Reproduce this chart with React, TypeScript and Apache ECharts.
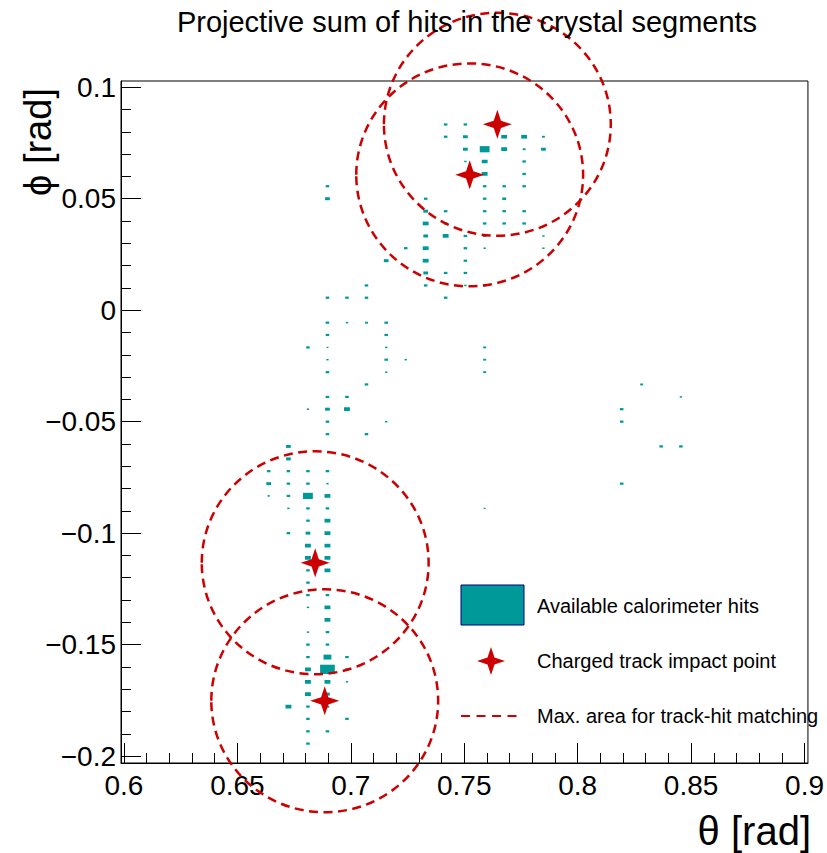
import React, { useEffect, useRef } from 'react';
import * as echarts from 'echarts';

const chartTitle = 'Projective sum of hits in the crystal segments';
const xAxisTitle = 'θ [rad]';
const yAxisTitle = 'ϕ [rad]';
const xTickValues = [0.6, 0.65, 0.7, 0.75, 0.8, 0.85, 0.9];
const yTickValues = [-0.2, -0.15, -0.1, -0.05, 0, 0.05, 0.1];
const xRange = [0.5987, 0.9015];
const yRange = [-0.2031, 0.1028];
const minorStep = 0.01;
// bin size of a crystal segment (theta, phi)
const cellSize = [0.00865, 0.00556];

// hits: [theta, phi, relative box size]
const hits = [
  // theta 0.7418
  [0.7418, 0.0833, 0.18], [0.7418, 0.0778, 0.18], [0.7418, 0.0444, 0.18], [0.7418, 0.0389, 0.18],
  [0.7418, 0.0333, 0.3], [0.7418, 0.0167, 0.18], [0.7418, 0.0056, 0.18],
  // theta 0.7505
  [0.7505, 0.0833, 0.18], [0.7505, 0.0778, 0.24], [0.7505, 0.0722, 0.24], [0.7505, 0.0667, 0.12],
  [0.7505, 0.0333, 0.18], [0.7505, 0.0278, 0.18], [0.7505, 0.0222, 0.18], [0.7505, 0.0167, 0.18],
  [0.7505, 0.0111, 0.12],
  // theta 0.7590
  [0.759, 0.0722, 0.5], [0.759, 0.0667, 0.3], [0.759, 0.0611, 0.3], [0.759, 0.0556, 0.18],
  [0.759, 0.05, 0.18], [0.759, 0.0444, 0.18], [0.759, 0.0389, 0.18], [0.759, 0.0333, 0.18],
  [0.759, 0.0278, 0.12], [0.759, 0.0111, 0.18], [0.759, -0.0167, 0.15], [0.759, -0.0222, 0.15],
  [0.759, -0.0278, 0.15], [0.759, -0.0889, 0.1],
  // theta 0.7676
  [0.7676, 0.0778, 0.3], [0.7676, 0.0722, 0.3], [0.7676, 0.0556, 0.18], [0.7676, 0.05, 0.2],
  [0.7676, 0.0444, 0.18], [0.7676, 0.0389, 0.18],
  // theta 0.7764
  [0.7764, 0.0778, 0.3], [0.7764, 0.0722, 0.15], [0.7764, 0.0667, 0.18], [0.7764, 0.0611, 0.18],
  [0.7764, 0.0556, 0.18], [0.7764, 0.0444, 0.18], [0.7764, 0.0389, 0.18],
  // theta 0.7849
  [0.7849, 0.0778, 0.15], [0.7849, 0.0722, 0.24], [0.7849, 0.0333, 0.12], [0.7849, 0.0278, 0.12],
  // theta 0.7330
  [0.733, 0.05, 0.18], [0.733, 0.0444, 0.24], [0.733, 0.0389, 0.3], [0.733, 0.0333, 0.24],
  [0.733, 0.0278, 0.3], [0.733, 0.0222, 0.3], [0.733, 0.0167, 0.24], [0.733, 0.0111, 0.18],
  // theta 0.7242
  [0.7242, 0.0278, 0.18], [0.7242, -0.0222, 0.12],
  // theta 0.7156
  [0.7156, 0.0222, 0.24], [0.7156, -0.0056, 0.18], [0.7156, -0.0111, 0.18], [0.7156, -0.0167, 0.12],
  [0.7156, -0.0222, 0.18], [0.7156, -0.0278, 0.12], [0.7156, -0.05, 0.12],
  // theta 0.7069
  [0.7069, 0.0111, 0.18], [0.7069, 0.0056, 0.18], [0.7069, -0.0056, 0.15], [0.7069, -0.0333, 0.18],
  [0.7069, -0.0556, 0.18],
  // theta 0.6983
  [0.6983, 0.0056, 0.18], [0.6983, -0.0056, 0.12], [0.6983, -0.0389, 0.18], [0.6983, -0.0444, 0.3],
  [0.6983, -0.1556, 0.18], [0.6983, -0.1611, 0.18], [0.6983, -0.1667, 0.12], [0.6983, -0.1833, 0.18],
  // theta 0.6897
  [0.6897, 0.0556, 0.18], [0.6897, 0.05, 0.24], [0.6897, 0.0056, 0.18], [0.6897, -0.0056, 0.18],
  [0.6897, -0.0111, 0.18], [0.6897, -0.0167, 0.1], [0.6897, -0.0222, 0.12], [0.6897, -0.0278, 0.18],
  [0.6897, -0.0389, 0.18], [0.6897, -0.0444, 0.24], [0.6897, -0.05, 0.18], [0.6897, -0.0556, 0.18],
  [0.6897, -0.0722, 0.18], [0.6897, -0.0778, 0.12], [0.6897, -0.0833, 0.3], [0.6897, -0.0889, 0.18],
  [0.6897, -0.0944, 0.3], [0.6897, -0.1, 0.3], [0.6897, -0.1056, 0.3], [0.6897, -0.1111, 0.3],
  [0.6897, -0.1167, 0.3], [0.6897, -0.1278, 0.18], [0.6897, -0.1333, 0.3], [0.6897, -0.1389, 0.3],
  [0.6897, -0.1444, 0.18], [0.6897, -0.15, 0.18], [0.6897, -0.1556, 0.4], [0.6897, -0.1611, 0.75],
  [0.6897, -0.1667, 0.3], [0.6897, -0.1722, 0.24], [0.6897, -0.1778, 0.18], [0.6897, -0.1889, 0.18],
  // theta 0.6811
  [0.6811, -0.0167, 0.18], [0.6811, -0.0444, 0.12], [0.6811, -0.0722, 0.18], [0.6811, -0.0778, 0.18],
  [0.6811, -0.0833, 0.5], [0.6811, -0.0889, 0.18], [0.6811, -0.0944, 0.18], [0.6811, -0.1, 0.24],
  [0.6811, -0.1056, 0.3], [0.6811, -0.1111, 0.3], [0.6811, -0.1167, 0.18], [0.6811, -0.1222, 0.18],
  [0.6811, -0.1278, 0.18], [0.6811, -0.1333, 0.12], [0.6811, -0.1444, 0.12], [0.6811, -0.15, 0.18],
  [0.6811, -0.1556, 0.18], [0.6811, -0.1611, 0.3], [0.6811, -0.1667, 0.3], [0.6811, -0.1722, 0.3],
  [0.6811, -0.1778, 0.18], [0.6811, -0.1833, 0.18], [0.6811, -0.1889, 0.18], [0.6811, -0.1944, 0.18],
  // theta 0.6725
  [0.6725, -0.0611, 0.24], [0.6725, -0.0667, 0.24], [0.6725, -0.0722, 0.18], [0.6725, -0.0778, 0.18],
  [0.6725, -0.0833, 0.18], [0.6725, -0.0889, 0.12], [0.6725, -0.1, 0.18], [0.6725, -0.1778, 0.3],
  // theta 0.6638
  [0.6638, -0.0722, 0.18], [0.6638, -0.0778, 0.24], [0.6638, -0.0833, 0.12],
  // isolated hits at larger theta
  [0.8194, -0.0444, 0.18], [0.8194, -0.05, 0.18], [0.8194, -0.0778, 0.18], [0.8282, -0.0333, 0.15],
  [0.8368, -0.0611, 0.18], [0.8455, -0.0389, 0.12], [0.8455, -0.0611, 0.18],
];

const trackTheta = [0.7646, 0.7524, 0.6843, 0.6885];
const trackPhi = [0.0834, 0.0607, -0.1133, -0.1752];
const matchRadius = 0.05;

const legendLabels = [
  'Available calorimeter hits',
  'Charged track impact point',
  'Max. area for track-hit matching',
];

const hitColor = '#009999';
const trackColor = '#cc0000';
const fontFamily = '"Liberation Sans", Arial, Helvetica, sans-serif';
const starPath = 'path://M0,-10L2.5,-2.5L10,0L2.5,2.5L0,10L-2.5,2.5L-10,0L-2.5,-2.5Z';

function fmt(v: number): string {
  const r = Math.round(v * 1000) / 1000;
  return r < 0 ? '\u2212' + String(-r) : String(r === 0 ? 0 : r);
}

function minorTicks(a: number, b: number): number[] {
  const out: number[] = [];
  const n = Math.round((b - a) / minorStep);
  for (let i = 0; i <= n; i++) out.push(Math.round((a + i * minorStep) * 1000) / 1000);
  return out;
}

export default function App() {
  const ref = useRef<HTMLDivElement>(null);

  useEffect(() => {
    if (!ref.current) return;
    const chart = echarts.init(ref.current, undefined, { renderer: 'svg' });

    const starPts = (cx: number, cy: number, r: number) => {
      const q = r * 0.25;
      return [
        [cx, cy - r], [cx + q, cy - q], [cx + r, cy], [cx + q, cy + q],
        [cx, cy + r], [cx - q, cy + q], [cx - r, cy], [cx - q, cy - q],
      ];
    };

    const majorAxisCommon = {
      type: 'value' as const,
      axisLine: { show: true, onZero: false, lineStyle: { color: '#000', width: 1 } },
      splitLine: { show: false },
    };

    chart.setOption({
      animation: false,
      backgroundColor: '#fff',
      grid: {
        left: 121, top: 81, width: 690, height: 682,
        show: true, borderColor: '#000', borderWidth: 1, backgroundColor: 'transparent',
      },
      xAxis: [
        {
          ...majorAxisCommon,
          min: xRange[0], max: xRange[1], position: 'bottom',
          axisTick: { show: true, inside: true, length: 20, customValues: xTickValues, lineStyle: { color: '#000', width: 1 } },
          axisLabel: {
            customValues: xTickValues, formatter: (v: number) => fmt(v),
            fontSize: 28, color: '#000', fontFamily, margin: 8,
          },
        },
        {
          type: 'value', min: xRange[0], max: xRange[1], position: 'bottom',
          axisLine: { show: false, onZero: false },
          axisTick: { show: true, inside: true, length: 10, customValues: minorTicks(0.6, 0.9), lineStyle: { color: '#000', width: 1 } },
          axisLabel: { show: false },
          splitLine: { show: false },
        },
      ],
      yAxis: [
        {
          ...majorAxisCommon,
          min: yRange[0], max: yRange[1], position: 'left',
          axisTick: { show: true, inside: true, length: 20, customValues: yTickValues, lineStyle: { color: '#000', width: 1 } },
          axisLabel: {
            customValues: yTickValues, formatter: (v: number) => fmt(v),
            fontSize: 28, color: '#000', fontFamily, margin: 5,
          },
        },
        {
          type: 'value', min: yRange[0], max: yRange[1], position: 'left',
          axisLine: { show: false, onZero: false },
          axisTick: { show: true, inside: true, length: 10, customValues: minorTicks(-0.2, 0.1), lineStyle: { color: '#000', width: 1 } },
          axisLabel: { show: false },
          splitLine: { show: false },
        },
      ],
      series: [
        {
          type: 'custom',
          name: legendLabels[0],
          coordinateSystem: 'cartesian2d',
          xAxisIndex: 0, yAxisIndex: 0,
          encode: { x: 0, y: 1 },
          data: hits,
          z: 2,
          renderItem: (params: any, api: any) => {
            const c = api.coord([api.value(0), api.value(1)]);
            const s = api.size([cellSize[0], cellSize[1]]);
            const f = api.value(2);
            const w = s[0] * f;
            const h = s[1] * f;
            return {
              type: 'rect',
              shape: { x: c[0] - w / 2, y: c[1] - h / 2, width: w, height: h },
              style: { fill: hitColor },
            };
          },
        },
        {
          type: 'custom',
          name: legendLabels[2],
          coordinateSystem: 'cartesian2d',
          xAxisIndex: 0, yAxisIndex: 0,
          encode: { x: 0, y: 1 },
          clip: false,
          z: 3,
          data: trackTheta.map((t, i) => [t, trackPhi[i], matchRadius]),
          renderItem: (params: any, api: any) => {
            const c = api.coord([api.value(0), api.value(1)]);
            const r = api.value(2);
            const s = api.size([r, r]);
            return {
              type: 'ellipse',
              shape: { cx: c[0], cy: c[1], rx: s[0], ry: s[1] },
              style: { fill: 'none', stroke: trackColor, lineWidth: 2.5, lineDash: [9, 5.5] },
            };
          },
        },
        {
          type: 'scatter',
          name: legendLabels[1],
          xAxisIndex: 0, yAxisIndex: 0,
          data: trackTheta.map((t, i) => [t, trackPhi[i]]),
          symbol: starPath,
          symbolSize: 29,
          itemStyle: { color: trackColor, opacity: 1 },
          z: 4,
        },
      ],
      graphic: [
        {
          type: 'text', x: 467, y: 22, z: 10,
          style: { text: chartTitle, fontSize: 29, fontFamily, fill: '#000', align: 'center', verticalAlign: 'middle' },
        },
        {
          type: 'text', x: 38, y: 142, rotation: Math.PI / 2, z: 10,
          style: { text: yAxisTitle, fontSize: 38, fontFamily, fill: '#000', align: 'center', verticalAlign: 'middle' },
        },
        {
          type: 'text', x: 811, y: 831, z: 10,
          style: { text: xAxisTitle, fontSize: 40, fontFamily, fill: '#000', align: 'right', verticalAlign: 'middle' },
        },
        {
          type: 'rect', z: 10,
          shape: { x: 461, y: 585, width: 63, height: 40 },
          style: { fill: hitColor, stroke: '#000080', lineWidth: 1 },
        },
        {
          type: 'text', x: 537, y: 606, z: 10,
          style: { text: legendLabels[0], fontSize: 20, fontFamily, fill: '#000', align: 'left', verticalAlign: 'middle' },
        },
        {
          type: 'polygon', z: 10,
          shape: { points: starPts(491, 661, 14) },
          style: { fill: trackColor },
        },
        {
          type: 'text', x: 537, y: 661, z: 10,
          style: { text: legendLabels[1], fontSize: 20, fontFamily, fill: '#000', align: 'left', verticalAlign: 'middle' },
        },
        {
          type: 'line', z: 10,
          shape: { x1: 461, y1: 716, x2: 518, y2: 716 },
          style: { stroke: trackColor, lineWidth: 2, lineDash: [9, 6.5] },
        },
        {
          type: 'text', x: 537, y: 716, z: 10,
          style: { text: legendLabels[2], fontSize: 20, fontFamily, fill: '#000', align: 'left', verticalAlign: 'middle' },
        },
      ],
    });

    return () => chart.dispose();
  }, []);

  return (
    <div
      ref={ref}
      style={{ position: 'absolute', left: 0, top: 0, width: 827, height: 853, background: '#fff' }}
    />
  );
}
